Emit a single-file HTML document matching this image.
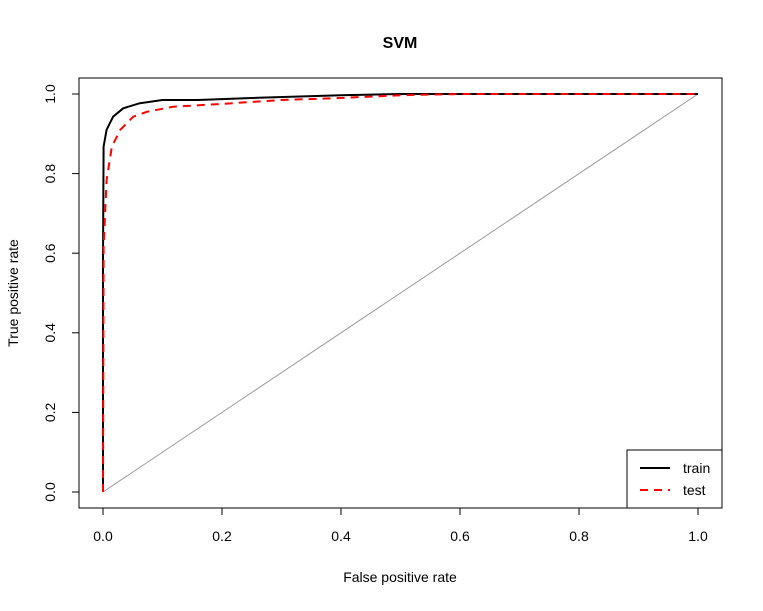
<!DOCTYPE html>
<html><head><meta charset="utf-8"><style>
body{margin:0;background:#fff;}
svg text{font-family:"Liberation Sans",Arial,sans-serif;}
</style></head><body>
<svg width="763" height="606" xmlns="http://www.w3.org/2000/svg">
<text x="400" y="48" text-anchor="middle" font-size="16" font-weight="bold">SVM</text>
<rect x="79" y="78" width="643" height="430" fill="none" stroke="#000"/>
<g id="axes"></g>
<line x1="103" y1="492" x2="698" y2="94" stroke="#999" stroke-width="1"/>
<g id="series"></g>
<text x="400" y="582" text-anchor="middle" font-size="14">False positive rate</text>
<text transform="translate(18,293) rotate(-90)" text-anchor="middle" font-size="14">True positive rate</text>
<g>
<rect x="627" y="450" width="95" height="58" fill="#fff" stroke="#000"/>
<line x1="640" y1="468" x2="670" y2="468" stroke="#000" stroke-width="2"/>
<text x="683" y="473" font-size="14">train</text>
<line x1="640" y1="490" x2="670" y2="490" stroke="#f00" stroke-width="2" stroke-dasharray="8,6"/>
<text x="683" y="495" font-size="14">test</text>
</g>
</svg>
<script>
const ticks=[0,0.2,0.4,0.6,0.8,1.0];
const tickLabels=["0.0","0.2","0.4","0.6","0.8","1.0"];
const trainFpr=[0,0,0.001,0.006,0.017,0.034,0.062,0.10,0.16,0.25,0.4,0.5,1];
const trainTpr=[0,0.583,0.868,0.91,0.943,0.964,0.977,0.985,0.985,0.99,0.997,1,1];
const testFpr=[0,0.001,0.006,0.015,0.029,0.051,0.073,0.118,0.2,0.3,0.4,0.5,0.6,1];
const testTpr=[0,0.616,0.784,0.868,0.91,0.943,0.955,0.968,0.975,0.985,0.99,0.997,1,1];
const X=v=>103+v*595, Y=v=>492-v*398;
const ns="http://www.w3.org/2000/svg";
const ax=document.getElementById('axes');
function mk(t,a,p){const e=document.createElementNS(ns,t);for(const k in a)e.setAttribute(k,a[k]);p.appendChild(e);return e;}
mk('line',{x1:X(0),x2:X(1),y1:508,y2:508,stroke:'#000'},ax);
mk('line',{x1:79,x2:79,y1:Y(0),y2:Y(1),stroke:'#000'},ax);
ticks.forEach((t,i)=>{
 const a=mk('line',{x1:X(t),x2:X(t),y1:508,y2:515,stroke:'#000'},ax);
 
 
 const l=mk('text',{x:X(t),y:541,'text-anchor':'middle','font-size':14},ax);l.textContent=tickLabels[i];
 
 
 const b=mk('line',{x1:72,x2:79,y1:Y(t),y2:Y(t),stroke:'#000'},ax);
 
 
 const m=mk('text',{transform:`translate(55,${Y(t)}) rotate(-90)`,'text-anchor':'middle','font-size':14},ax);m.textContent=tickLabels[i];
 
 
});
const s=document.getElementById('series');
function path(xs,ys){
 let d='';xs.forEach((v,i)=>{d+=(i?'L':'M')+X(v).toFixed(1)+','+Y(ys[i]).toFixed(1);});return d;}
const p1=mk('path',{d:path(trainFpr,trainTpr),fill:'none',stroke:'#000','stroke-width':2,'stroke-linejoin':'round'},s);


const p2=mk('path',{d:path(testFpr,testTpr),fill:'none',stroke:'#f00','stroke-width':2,'stroke-dasharray':'8,6','stroke-linejoin':'round'},s);


</script>
</body></html>
